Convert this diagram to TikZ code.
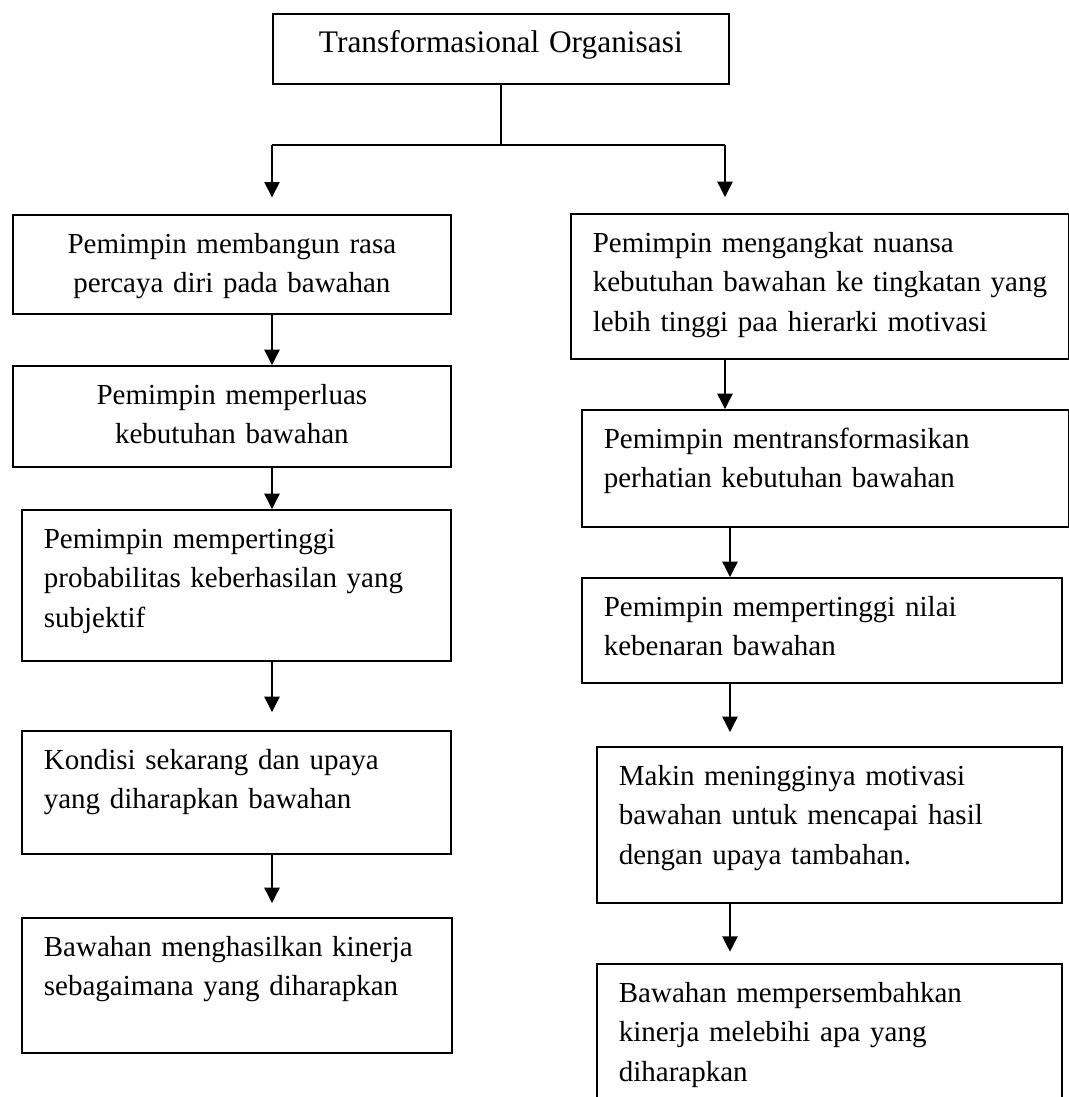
\documentclass[tikz,border=0pt]{standalone}
\usepackage{fontspec}
\setmainfont{Liberation Serif}
\usetikzlibrary{arrows.meta,calc,positioning}

\tikzset{
  kotak/.style={draw,line width=1.3pt,anchor=north west,inner xsep=16.5pt,inner ysep=0pt,text height=28.9pt},
  tengah/.style={align=center},
  kiri/.style={align=left},
  panah/.style={-{Triangle[length=11.5pt,width=11.5pt]},line width=1pt},
}

\begin{document}
\begin{tikzpicture}[x=0.75pt,y=-0.75pt,font=\fontsize{21.75}{29.6}\selectfont]
  \useasboundingbox (0,0) rectangle (1069,1097);
  \foreach \nama/\xa/\ya/\xb/\yb/\rata/\isi in {
      induk/272/13/728/83/tengah/{\fontsize{23.55}{29.6}\selectfont Transformasional Organisasi},
      a1/12/214/450/313/tengah/{Pemimpin membangun rasa\\percaya diri pada bawahan},
      a2/12/365/450/466/tengah/{Pemimpin memperluas\\kebutuhan bawahan},
      a3/21/509/450/660/kiri/{Pemimpin mempertinggi\\probabilitas keberhasilan yang\\subjektif},
      a4/21/730/450/853/kiri/{Kondisi sekarang dan upaya\\yang diharapkan bawahan},
      a5/21/917/451/1052/kiri/{Bawahan menghasilkan kinerja\\sebagaimana yang diharapkan},
      b1/570/213/1068/358/kiri/{Pemimpin mengangkat nuansa\\\mbox{kebutuhan bawahan ke tingkatan yang}\\lebih tinggi paa hierarki motivasi},
      b2/581/409/1068/526/kiri/{Pemimpin mentransformasikan\\perhatian kebutuhan bawahan},
      b3/581/577/1061/682/kiri/{Pemimpin mempertinggi nilai\\kebenaran bawahan},
      b4/596/746/1061/902/kiri/{Makin meningginya motivasi\\bawahan untuk mencapai hasil\\dengan upaya tambahan.},
      b5/596/963/1061/1103/kiri/{Bawahan mempersembahkan\\kinerja melebihi apa yang\\diharapkan}}{
    \pgfmathsetmacro\lebar{(\xb-\xa)*0.75-33}
    \pgfmathsetmacro\dalam{(\yb-\ya-38.5)*0.75}
    \node[kotak,\rata,text width=\lebar pt,text depth=\dalam pt] (\nama) at (\xa,\ya) {\isi};
  }
  \coordinate (cabkiri) at (272,145);
  \coordinate (cabkanan) at (725,145);
  \coordinate (jalurkanan) at (730,145);
  \draw[line width=1pt] (induk.south) -- (induk.south |- cabkiri);
  \draw[line width=1pt] (cabkiri) -- (cabkanan);
  \draw[panah,shorten >=12.5pt] (cabkiri) -- (cabkiri |- a1.north);
  \draw[panah,shorten >=12pt] (cabkanan) -- (cabkanan |- b1.north);
  \foreach \u/\v/\s in {a1/a2/0,a2/a3/0,a3/a4/13.5,a4/a5/10.5}
    \draw[panah,shorten >=\s pt] (\u.south -| cabkiri) -- (\v.north -| cabkiri);
  \draw[panah] (b1.south -| cabkanan) -- (b2.north -| cabkanan);
  \foreach \u/\v/\s in {b2/b3/0,b3/b4/10.5,b4/b5/8.5}
    \draw[panah,shorten >=\s pt] (\u.south -| jalurkanan) -- (\v.north -| jalurkanan);
\end{tikzpicture}
\end{document}
